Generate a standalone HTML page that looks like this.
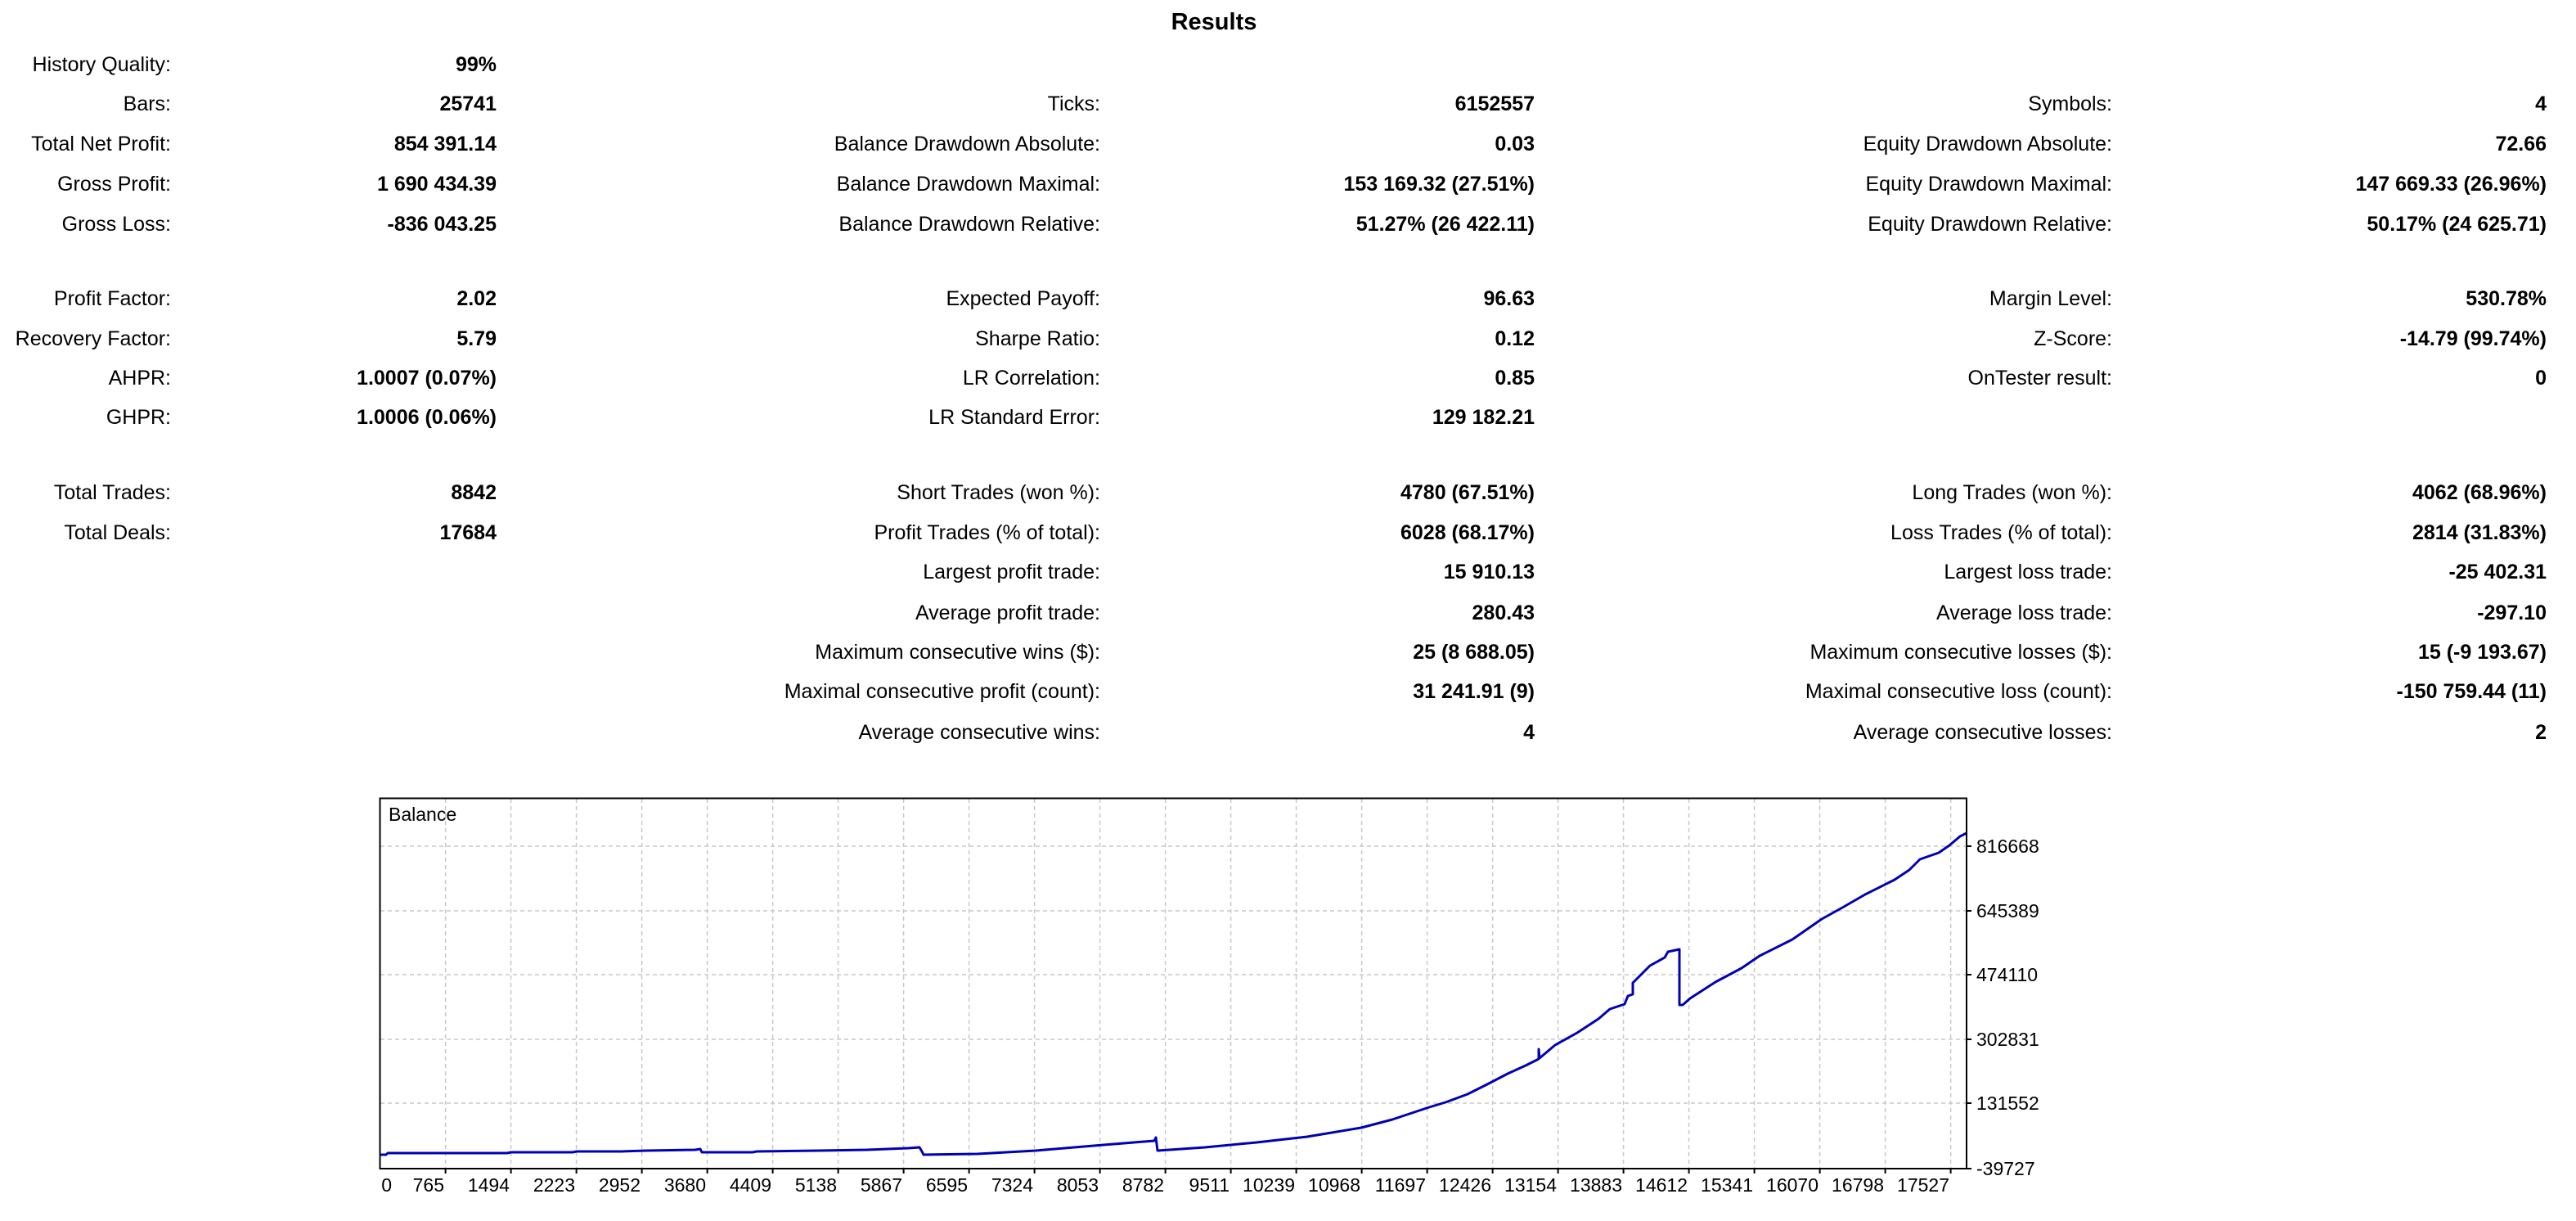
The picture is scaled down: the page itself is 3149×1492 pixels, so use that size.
<!DOCTYPE html>
<html><head><meta charset="utf-8"><style>
html,body{margin:0;padding:0;background:#fff;}
body{width:3149px;height:1492px;position:relative;overflow:hidden;font-family:"Liberation Sans",Arial,sans-serif;color:#000;}
.t{position:absolute;height:30px;line-height:30px;font-size:25px;white-space:nowrap;text-align:right;}
.b{font-weight:bold;}
</style></head><body>
<div style="position:absolute;left:1384px;width:200px;top:10px;text-align:center;font-size:29px;font-weight:bold;line-height:34px;">Results</div>

<div class="t" style="top:64px;right:2940px">History Quality:</div><div class="t b" style="top:64px;right:2542px">99%</div>

<div class="t" style="top:112px;right:2940px">Bars:</div><div class="t b" style="top:112px;right:2542px">25741</div>
<div class="t" style="top:112px;right:1804px">Ticks:</div><div class="t b" style="top:112px;right:1273px">6152557</div>
<div class="t" style="top:112px;right:567px">Symbols:</div><div class="t b" style="top:112px;right:36px">4</div>

<div class="t" style="top:161px;right:2940px">Total Net Profit:</div><div class="t b" style="top:161px;right:2542px">854 391.14</div>
<div class="t" style="top:161px;right:1804px">Balance Drawdown Absolute:</div><div class="t b" style="top:161px;right:1273px">0.03</div>
<div class="t" style="top:161px;right:567px">Equity Drawdown Absolute:</div><div class="t b" style="top:161px;right:36px">72.66</div>

<div class="t" style="top:210px;right:2940px">Gross Profit:</div><div class="t b" style="top:210px;right:2542px">1 690 434.39</div>
<div class="t" style="top:210px;right:1804px">Balance Drawdown Maximal:</div><div class="t b" style="top:210px;right:1273px">153 169.32 (27.51%)</div>
<div class="t" style="top:210px;right:567px">Equity Drawdown Maximal:</div><div class="t b" style="top:210px;right:36px">147 669.33 (26.96%)</div>

<div class="t" style="top:259px;right:2940px">Gross Loss:</div><div class="t b" style="top:259px;right:2542px">-836 043.25</div>
<div class="t" style="top:259px;right:1804px">Balance Drawdown Relative:</div><div class="t b" style="top:259px;right:1273px">51.27% (26 422.11)</div>
<div class="t" style="top:259px;right:567px">Equity Drawdown Relative:</div><div class="t b" style="top:259px;right:36px">50.17% (24 625.71)</div>

<div class="t" style="top:350px;right:2940px">Profit Factor:</div><div class="t b" style="top:350px;right:2542px">2.02</div>
<div class="t" style="top:350px;right:1804px">Expected Payoff:</div><div class="t b" style="top:350px;right:1273px">96.63</div>
<div class="t" style="top:350px;right:567px">Margin Level:</div><div class="t b" style="top:350px;right:36px">530.78%</div>

<div class="t" style="top:399px;right:2940px">Recovery Factor:</div><div class="t b" style="top:399px;right:2542px">5.79</div>
<div class="t" style="top:399px;right:1804px">Sharpe Ratio:</div><div class="t b" style="top:399px;right:1273px">0.12</div>
<div class="t" style="top:399px;right:567px">Z-Score:</div><div class="t b" style="top:399px;right:36px">-14.79 (99.74%)</div>

<div class="t" style="top:447px;right:2940px">AHPR:</div><div class="t b" style="top:447px;right:2542px">1.0007 (0.07%)</div>
<div class="t" style="top:447px;right:1804px">LR Correlation:</div><div class="t b" style="top:447px;right:1273px">0.85</div>
<div class="t" style="top:447px;right:567px">OnTester result:</div><div class="t b" style="top:447px;right:36px">0</div>

<div class="t" style="top:495px;right:2940px">GHPR:</div><div class="t b" style="top:495px;right:2542px">1.0006 (0.06%)</div>
<div class="t" style="top:495px;right:1804px">LR Standard Error:</div><div class="t b" style="top:495px;right:1273px">129 182.21</div>

<div class="t" style="top:587px;right:2940px">Total Trades:</div><div class="t b" style="top:587px;right:2542px">8842</div>
<div class="t" style="top:587px;right:1804px">Short Trades (won %):</div><div class="t b" style="top:587px;right:1273px">4780 (67.51%)</div>
<div class="t" style="top:587px;right:567px">Long Trades (won %):</div><div class="t b" style="top:587px;right:36px">4062 (68.96%)</div>

<div class="t" style="top:636px;right:2940px">Total Deals:</div><div class="t b" style="top:636px;right:2542px">17684</div>
<div class="t" style="top:636px;right:1804px">Profit Trades (% of total):</div><div class="t b" style="top:636px;right:1273px">6028 (68.17%)</div>
<div class="t" style="top:636px;right:567px">Loss Trades (% of total):</div><div class="t b" style="top:636px;right:36px">2814 (31.83%)</div>

<div class="t" style="top:684px;right:1804px">Largest profit trade:</div><div class="t b" style="top:684px;right:1273px">15 910.13</div>
<div class="t" style="top:684px;right:567px">Largest loss trade:</div><div class="t b" style="top:684px;right:36px">-25 402.31</div>

<div class="t" style="top:734px;right:1804px">Average profit trade:</div><div class="t b" style="top:734px;right:1273px">280.43</div>
<div class="t" style="top:734px;right:567px">Average loss trade:</div><div class="t b" style="top:734px;right:36px">-297.10</div>

<div class="t" style="top:782px;right:1804px">Maximum consecutive wins ($):</div><div class="t b" style="top:782px;right:1273px">25 (8 688.05)</div>
<div class="t" style="top:782px;right:567px">Maximum consecutive losses ($):</div><div class="t b" style="top:782px;right:36px">15 (-9 193.67)</div>

<div class="t" style="top:830px;right:1804px">Maximal consecutive profit (count):</div><div class="t b" style="top:830px;right:1273px">31 241.91 (9)</div>
<div class="t" style="top:830px;right:567px">Maximal consecutive loss (count):</div><div class="t b" style="top:830px;right:36px">-150 759.44 (11)</div>

<div class="t" style="top:880px;right:1804px">Average consecutive wins:</div><div class="t b" style="top:880px;right:1273px">4</div>
<div class="t" style="top:880px;right:567px">Average consecutive losses:</div><div class="t b" style="top:880px;right:36px">2</div>

<svg style="position:absolute;left:0;top:0" width="3149" height="1492" font-family="Liberation Sans, Arial, sans-serif" font-size="23">
<g stroke="#c8c8c8" stroke-width="1.5" stroke-dasharray="5,4">
<line x1="465" y1="1034" x2="2404" y2="1034"/>
<line x1="465" y1="1113" x2="2404" y2="1113"/>
<line x1="465" y1="1191" x2="2404" y2="1191"/>
<line x1="465" y1="1270" x2="2404" y2="1270"/>
<line x1="465" y1="1348" x2="2404" y2="1348"/>
<line x1="544.6" y1="976" x2="544.6" y2="1428"/><line x1="624.6" y1="976" x2="624.6" y2="1428"/><line x1="704.6" y1="976" x2="704.6" y2="1428"/><line x1="784.6" y1="976" x2="784.6" y2="1428"/><line x1="864.6" y1="976" x2="864.6" y2="1428"/><line x1="944.6" y1="976" x2="944.6" y2="1428"/><line x1="1024.6" y1="976" x2="1024.6" y2="1428"/><line x1="1104.6" y1="976" x2="1104.6" y2="1428"/><line x1="1184.6" y1="976" x2="1184.6" y2="1428"/><line x1="1264.6" y1="976" x2="1264.6" y2="1428"/><line x1="1344.6" y1="976" x2="1344.6" y2="1428"/><line x1="1424.6" y1="976" x2="1424.6" y2="1428"/><line x1="1504.6" y1="976" x2="1504.6" y2="1428"/><line x1="1584.6" y1="976" x2="1584.6" y2="1428"/><line x1="1664.6" y1="976" x2="1664.6" y2="1428"/><line x1="1744.6" y1="976" x2="1744.6" y2="1428"/><line x1="1824.6" y1="976" x2="1824.6" y2="1428"/><line x1="1904.6" y1="976" x2="1904.6" y2="1428"/><line x1="1984.6" y1="976" x2="1984.6" y2="1428"/><line x1="2064.6" y1="976" x2="2064.6" y2="1428"/><line x1="2144.6" y1="976" x2="2144.6" y2="1428"/><line x1="2224.6" y1="976" x2="2224.6" y2="1428"/><line x1="2304.6" y1="976" x2="2304.6" y2="1428"/><line x1="2384.6" y1="976" x2="2384.6" y2="1428"/>
</g>
<polyline fill="none" stroke="#0000b4" stroke-width="3" stroke-linejoin="round" points="465,1411 472,1411 474,1409 620,1409 625,1408 700,1408 705,1407 760,1407 790,1406 850,1405 856,1404 858,1408 920,1408 925,1407 1000,1406 1060,1405 1110,1403 1124,1402 1127,1407 1129,1411 1195,1410 1266,1406 1349,1399 1411,1394 1413,1390 1415,1406 1473,1402 1536,1396 1598,1389 1664,1378 1702,1368 1747,1353 1767,1347 1794,1337 1818,1325 1843,1312 1865,1302 1881,1294 1881,1282 1882,1293 1901,1277 1928,1262 1954,1245 1968,1233 1986,1227 1990,1217 1996,1215 1996,1201 2004,1193 2017,1180 2035,1170 2039,1163 2053,1160 2053,1228 2057,1228 2066,1220 2097,1200 2129,1183 2151,1168 2191,1148 2227,1123 2254,1108 2280,1093 2316,1075 2334,1063 2347,1050 2370,1042 2383,1033 2396,1022 2404,1018"/>
<rect x="464.5" y="975.5" width="1939.5" height="452.5" fill="none" stroke="#000" stroke-width="2"/>
<g stroke="#000" stroke-width="2">
<line x1="2404" y1="1034" x2="2410" y2="1034"/><line x1="2404" y1="1113" x2="2410" y2="1113"/><line x1="2404" y1="1191" x2="2410" y2="1191"/><line x1="2404" y1="1270" x2="2410" y2="1270"/><line x1="2404" y1="1348" x2="2410" y2="1348"/><line x1="2404" y1="1428" x2="2410" y2="1428"/>
<line x1="544.6" y1="1428" x2="544.6" y2="1434"/><line x1="624.6" y1="1428" x2="624.6" y2="1434"/><line x1="704.6" y1="1428" x2="704.6" y2="1434"/><line x1="784.6" y1="1428" x2="784.6" y2="1434"/><line x1="864.6" y1="1428" x2="864.6" y2="1434"/><line x1="944.6" y1="1428" x2="944.6" y2="1434"/><line x1="1024.6" y1="1428" x2="1024.6" y2="1434"/><line x1="1104.6" y1="1428" x2="1104.6" y2="1434"/><line x1="1184.6" y1="1428" x2="1184.6" y2="1434"/><line x1="1264.6" y1="1428" x2="1264.6" y2="1434"/><line x1="1344.6" y1="1428" x2="1344.6" y2="1434"/><line x1="1424.6" y1="1428" x2="1424.6" y2="1434"/><line x1="1504.6" y1="1428" x2="1504.6" y2="1434"/><line x1="1584.6" y1="1428" x2="1584.6" y2="1434"/><line x1="1664.6" y1="1428" x2="1664.6" y2="1434"/><line x1="1744.6" y1="1428" x2="1744.6" y2="1434"/><line x1="1824.6" y1="1428" x2="1824.6" y2="1434"/><line x1="1904.6" y1="1428" x2="1904.6" y2="1434"/><line x1="1984.6" y1="1428" x2="1984.6" y2="1434"/><line x1="2064.6" y1="1428" x2="2064.6" y2="1434"/><line x1="2144.6" y1="1428" x2="2144.6" y2="1434"/><line x1="2224.6" y1="1428" x2="2224.6" y2="1434"/><line x1="2304.6" y1="1428" x2="2304.6" y2="1434"/><line x1="2384.6" y1="1428" x2="2384.6" y2="1434"/>
</g>
<text x="475" y="1003">Balance</text>
<g>
<text x="2416" y="1042">816668</text><text x="2416" y="1121">645389</text><text x="2416" y="1199">474110</text><text x="2416" y="1278">302831</text><text x="2416" y="1356">131552</text><text x="2416" y="1436">-39727</text>
</g>
<g text-anchor="end">
<text x="479" y="1456">0</text><text x="543" y="1456">765</text><text x="623" y="1456">1494</text><text x="703" y="1456">2223</text><text x="783" y="1456">2952</text><text x="863" y="1456">3680</text><text x="943" y="1456">4409</text><text x="1023" y="1456">5138</text><text x="1103" y="1456">5867</text><text x="1183" y="1456">6595</text><text x="1263" y="1456">7324</text><text x="1343" y="1456">8053</text><text x="1423" y="1456">8782</text><text x="1503" y="1456">9511</text><text x="1583" y="1456">10239</text><text x="1663" y="1456">10968</text><text x="1743" y="1456">11697</text><text x="1823" y="1456">12426</text><text x="1903" y="1456">13154</text><text x="1983" y="1456">13883</text><text x="2063" y="1456">14612</text><text x="2143" y="1456">15341</text><text x="2223" y="1456">16070</text><text x="2303" y="1456">16798</text><text x="2383" y="1456">17527</text>
</g>
</svg>
</body></html>
